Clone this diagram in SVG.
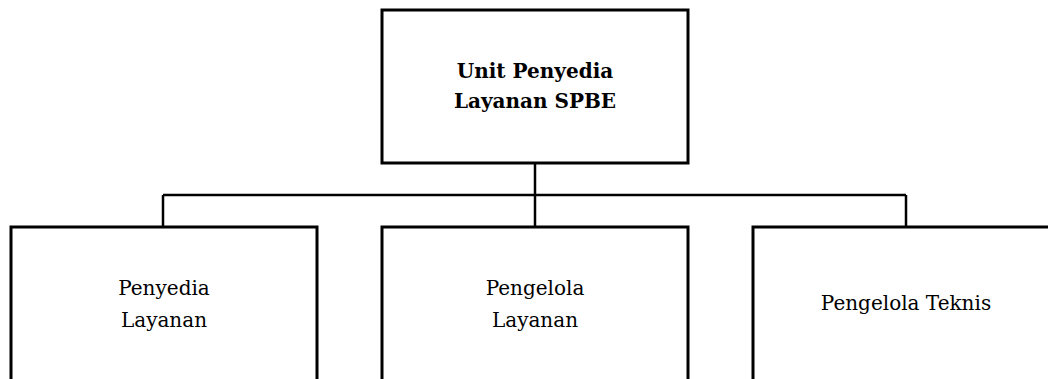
<svg xmlns="http://www.w3.org/2000/svg" width="1048" height="379" viewBox="0 0 1048 379">
  <style>
    .box { fill: #ffffff; stroke: #000000; stroke-width: 3; }
    .link { fill: none; stroke: #000000; stroke-width: 2.5; }
    .label { font-family: "DejaVu Serif", "Liberation Serif", serif; font-size: 20px; fill: #000000; text-anchor: middle; }
    .title { font-weight: bold; }
  </style>

  <!-- connectors: trunk from the head unit, horizontal bus, drops to each child -->
  <g id="connectors">
    <path class="link" d="M535,163 V195" />
    <path class="link" d="M163,195 H906" />
    <path class="link" d="M163,195 V227" />
    <path class="link" d="M535,195 V227" />
    <path class="link" d="M906,195 V227" />
  </g>

  <g id="unit-penyedia-layanan-spbe">
    <rect class="box" x="382" y="10" width="306" height="153" />
    <text class="label title" x="535" y="78">Unit Penyedia</text>
    <text class="label title" x="535" y="108">Layanan SPBE</text>
  </g>

  <g id="penyedia-layanan">
    <rect class="box" x="11" y="227" width="306" height="170" />
    <text class="label" x="164" y="295">Penyedia</text>
    <text class="label" x="164" y="327">Layanan</text>
  </g>

  <g id="pengelola-layanan">
    <rect class="box" x="382" y="227" width="306" height="170" />
    <text class="label" x="535" y="295">Pengelola</text>
    <text class="label" x="535" y="327">Layanan</text>
  </g>

  <g id="pengelola-teknis">
    <rect class="box" x="753" y="227" width="306" height="170" />
    <text class="label" x="906" y="310">Pengelola Teknis</text>
  </g>
</svg>
